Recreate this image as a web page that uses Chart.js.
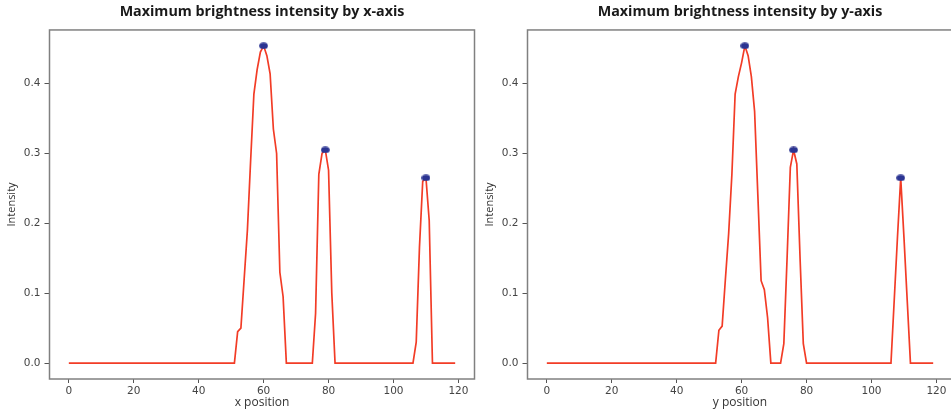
<!DOCTYPE html>
<html>
<head>
<meta charset="utf-8">
<script src="https://cdn.jsdelivr.net/npm/chart.js@4.4.1/dist/chart.umd.min.js"></script>
<style>
  html, body { margin: 0; padding: 0; background: #fff; overflow: hidden; width: 951px; height: 414px; }
  canvas { position: absolute; top: 0; }
</style>
</head>
<body>
<canvas id="chartX" width="480" height="414" style="left:0px"></canvas>
<canvas id="chartY" width="480" height="414" style="left:478px"></canvas>
<script>
// Maximum intensity per pixel column (index = x position)
const xIntensity = [
  0, 0, 0, 0, 0, 0, 0, 0, 0, 0,
  0, 0, 0, 0, 0, 0, 0, 0, 0, 0,
  0, 0, 0, 0, 0, 0, 0, 0, 0, 0,
  0, 0, 0, 0, 0, 0, 0, 0, 0, 0,
  0, 0, 0, 0, 0, 0, 0, 0, 0, 0,
  0, 0, 0.045, 0.05, 0.12, 0.19, 0.29, 0.385, 0.42, 0.445,
  0.454, 0.44, 0.414, 0.335, 0.30, 0.13, 0.095, 0, 0, 0,
  0, 0, 0, 0, 0, 0, 0.071, 0.27, 0.30, 0.305,
  0.276, 0.10, 0, 0, 0, 0, 0, 0, 0, 0,
  0, 0, 0, 0, 0, 0, 0, 0, 0, 0,
  0, 0, 0, 0, 0, 0, 0, 0.03, 0.166, 0.26,
  0.265, 0.204, 0, 0, 0, 0, 0, 0, 0, 0
];

// Maximum intensity per pixel row (index = y position)
const yIntensity = [
  0, 0, 0, 0, 0, 0, 0, 0, 0, 0,
  0, 0, 0, 0, 0, 0, 0, 0, 0, 0,
  0, 0, 0, 0, 0, 0, 0, 0, 0, 0,
  0, 0, 0, 0, 0, 0, 0, 0, 0, 0,
  0, 0, 0, 0, 0, 0, 0, 0, 0, 0,
  0, 0, 0, 0.047, 0.053, 0.12, 0.185, 0.27, 0.385, 0.41,
  0.43, 0.454, 0.44, 0.41, 0.36, 0.24, 0.118, 0.105, 0.065, 0,
  0, 0, 0, 0.028, 0.15, 0.28, 0.305, 0.285, 0.15, 0.028,
  0, 0, 0, 0, 0, 0, 0, 0, 0, 0,
  0, 0, 0, 0, 0, 0, 0, 0, 0, 0,
  0, 0, 0, 0, 0, 0, 0, 0.09, 0.18, 0.265,
  0.18, 0.09, 0, 0, 0, 0, 0, 0, 0, 0
];

// detected peaks (positions)
const xPeaks = [60, 79, 110];
const yPeaks = [61, 76, 109];

const positionTicks = [0, 20, 40, 60, 80, 100, 120];
const intensityTicks = [0, 0.1, 0.2, 0.3, 0.4];

// slightly squashed dot like the original marker
const dot = document.createElement('canvas');
dot.width = 9;
dot.height = 7;
const dctx = dot.getContext('2d');
dctx.fillStyle = '#2b3492';
dctx.beginPath();
dctx.ellipse(4.5, 3.5, 4.3, 3.3, 0, 0, Math.PI * 2);
dctx.fill();

// box around the plot area
const framePlugin = {
  id: 'frame',
  afterDraw(chart) {
    const { ctx, chartArea: a } = chart;
    ctx.save();
    ctx.strokeStyle = '#808080';
    ctx.lineWidth = 1.5;
    ctx.strokeRect(a.left, a.top, a.right - a.left, a.bottom - a.top);
    ctx.restore();
  }
};

const makeChart = (id, title, axisLabel, values, peaks) => {
  const ctx = document.getElementById(id).getContext('2d');
  return new Chart(ctx, {
    type: 'line',
    data: {
      datasets: [
        {
          label: 'intensity',
          data: values.map((v, i) => ({ x: i, y: v })),
          borderColor: '#f23c26',
          borderWidth: 1.7,
          pointRadius: 0,
          tension: 0,
          order: 2,
        },
        {
          label: 'peaks',
          data: peaks.map(p => ({ x: p, y: values[p] })),
          showLine: false,
          pointStyle: dot,
          order: 1,
        },
      ],
    },
    options: {
      responsive: false,
      animation: false,
      devicePixelRatio: 1,
      layout: { padding: { left: 0, right: 5.5, top: 0, bottom: 0 } },
      plugins: {
        legend: { display: false },
        tooltip: { enabled: false },
        title: {
          display: true,
          text: title,
          fullSize: false,
          color: '#1a1a1a',
          font: { family: 'Open Sans', size: 14.3, weight: 'bold', lineHeight: 1.2 },
          padding: { top: 3, bottom: 9.8 },
        },
      },
      scales: {
        x: {
          type: 'linear',
          min: -5.95,
          max: 124.95,
          afterBuildTicks: s => { s.ticks = positionTicks.map(v => ({ value: v })); },
          afterFit: s => { s.height = 35; },
          grid: { drawOnChartArea: false, tickLength: 4, color: '#555' },
          border: { display: false },
          ticks: {
            color: '#444',
            padding: 2,
            maxRotation: 0,
            font: { family: 'DejaVu Sans', size: 10.5 },
          },
          title: {
            display: true,
            text: axisLabel,
            color: '#333',
            font: { family: 'Open Sans', size: 12 },
            padding: { top: 0, bottom: 4 },
          },
        },
        y: {
          min: -0.0227,
          max: 0.4767,
          afterBuildTicks: s => { s.ticks = intensityTicks.map(v => ({ value: v })); },
          afterFit: s => { s.width = 49.5; },
          grid: { drawOnChartArea: false, tickLength: 5, color: '#555' },
          border: { display: false },
          ticks: {
            color: '#444',
            padding: 4,
            font: { family: 'DejaVu Sans', size: 10.5 },
            callback: v => v.toFixed(1),
          },
          title: {
            display: true,
            text: 'Intensity',
            color: '#333',
            font: { family: 'Open Sans', size: 11 },
            padding: { top: 5.5, bottom: 0 },
          },
        },
      },
    },
    plugins: [framePlugin],
  });
};

makeChart('chartX', 'Maximum brightness intensity by x-axis', 'x position', xIntensity, xPeaks);
makeChart('chartY', 'Maximum brightness intensity by y-axis', 'y position', yIntensity, yPeaks);
</script>
</body>
</html>
